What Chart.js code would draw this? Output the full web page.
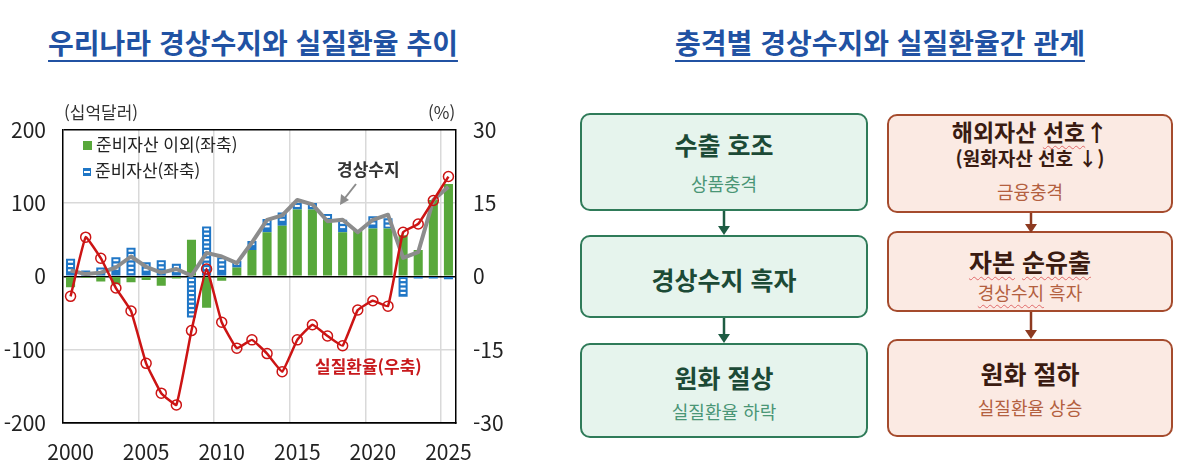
<!DOCTYPE html>
<html lang="ko">
<head>
<meta charset="UTF-8">
<title>경상수지와 실질환율</title>
<script src="https://cdn.jsdelivr.net/npm/chart.js"></script>
<style>
    body { margin: 0; width: 1199px; height: 467px; background: #fff; position: relative; overflow: hidden;
           font-family: "Noto Sans CJK KR", "Noto Sans", sans-serif; }
    .title { position: absolute; top: 26px; width: 500px; text-align: center; font-size: 28px; font-weight: bold;
             color: #2152a3; white-space: nowrap; line-height: 1.2; }
    .title span { text-decoration: underline; text-decoration-thickness: 2px; text-underline-offset: 6px; }
    .chart-wrap { position: absolute; left: 0; top: 100px; width: 510px; height: 367px; }
    .note { position: absolute; white-space: nowrap; line-height: 1; }
    .legend { position: absolute; left: 83px; font-size: 17px; color: #222; white-space: nowrap; line-height: 1; }
    .legend i { display: inline-block; width: 9px; height: 9px; margin-right: 4px; vertical-align: 1px; }
    .box { position: absolute; border-radius: 10px; box-sizing: border-box; }
    .green { background: #e6f4ed; border: 2px solid #2f7b59; }
    .red { background: #fbeae3; border: 2px solid #a54b2d; }
    .line { position: absolute; left: 0; right: 0; text-align: center; white-space: nowrap; line-height: 1.2; }
    .green .b { font-weight: bold; color: #1c4a36; }
    .green .s { color: #4a9676; }
    .red .b { font-weight: bold; color: #3a1b11; }
    .red .s { color: #b3603f; }
    .sq { text-decoration: underline wavy #e06a6a; text-decoration-thickness: 1px; text-underline-offset: 4px; }
    svg { position: absolute; left: 0; top: 0; pointer-events: none; }
</style>
</head>
<body>

<div class="title" style="left:3px"><span>우리나라 경상수지와 실질환율 추이</span></div>
<div class="title" style="left:630px"><span>충격별 경상수지와 실질환율간 관계</span></div>

<div class="chart-wrap"><canvas id="chart"></canvas></div>

<div class="note" style="left:64px; top:103px; font-size:17px; color:#333">(십억달러)</div>
<div class="note" style="left:428px; top:103px; font-size:17px; color:#333">(%)</div>

<div class="legend" style="top:135px"><i style="background:#58a83b"></i>준비자산 이외(좌축)</div>
<div class="legend" style="top:161px"><i style="background:repeating-linear-gradient(#1f76c6 0 2px,#fff 2px 4px);border:1.5px solid #1f76c6;width:6px;height:6px"></i>준비자산(좌축)</div>

<div class="note" style="left:337px; top:160px; font-size:17px; font-weight:bold; color:#333">경상수지</div>
<div class="note" style="left:315px; top:357px; font-size:17px; font-weight:bold; color:#c8191c">실질환율(우축)</div>

<!-- 오른쪽 도식 -->
<div class="box green" style="left:580px; top:113px; width:288px; height:98px">
    <div class="line b" style="top:14px; font-size:25px">수출 호조</div>
    <div class="line s" style="top:58px; font-size:18px">상품충격</div>
</div>
<div class="box green" style="left:580px; top:235px; width:288px; height:83px">
    <div class="line b" style="top:27px; font-size:25px">경상수지 흑자</div>
</div>
<div class="box green" style="left:580px; top:343px; width:288px; height:95px">
    <div class="line b" style="top:17px; font-size:25px">원화 절상</div>
    <div class="line s" style="top:56px; font-size:18px">실질환율 하락</div>
</div>

<div class="box red" style="left:887px; top:114px; width:286px; height:99px">
    <div class="line b" style="top:2px; font-size:23px">해외자산 <span class="sq">선호</span>↑</div>
    <div class="line b" style="top:31px; font-size:19px">(원화자산 선호 ↓)</div>
    <div class="line s" style="top:65px; font-size:18px">금융충격</div>
</div>
<div class="box red" style="left:887px; top:231px; width:286px; height:81px">
    <div class="line b" style="top:13px; font-size:25px"><span class="sq">자본</span> <span class="sq">순유출</span></div>
    <div class="line s" style="top:49px; font-size:18px"><span class="sq">경상수지</span> 흑자</div>
</div>
<div class="box red" style="left:887px; top:339px; width:286px; height:98px">
    <div class="line b" style="top:17px; font-size:25px">원화 절하</div>
    <div class="line s" style="top:56px; font-size:18px">실질환율 상승</div>
</div>

<svg width="1199" height="467">
    <g stroke="#1e5c43" fill="#1e5c43" stroke-width="2.5">
        <line x1="724" y1="211" x2="724" y2="228"/><polygon points="718,226 730,226 724,235" stroke="none"/>
        <line x1="724" y1="318" x2="724" y2="336"/><polygon points="718,334 730,334 724,343" stroke="none"/>
    </g>
    <g stroke="#8d3a20" fill="#8d3a20" stroke-width="2.5">
        <line x1="1031" y1="213" x2="1031" y2="226"/><polygon points="1025,224 1037,224 1031,233" stroke="none"/>
        <line x1="1031" y1="312" x2="1031" y2="332"/><polygon points="1025,330 1037,330 1031,339" stroke="none"/>
    </g>
    <g stroke="#8c8c8c" fill="#8c8c8c" stroke-width="2">
        <line x1="356" y1="184" x2="345" y2="198"/><polygon points="340,205 341,194 349,200" stroke="none"/>
    </g>
</svg>

<script>
    const years = [2000, 2001, 2002, 2003, 2004, 2005, 2006, 2007, 2008, 2009, 2010, 2011, 2012,
                   2013, 2014, 2015, 2016, 2017, 2018, 2019, 2020, 2021, 2022, 2023, 2024, 2025];
    const labeledYears = [2000, 2005, 2010, 2015, 2020, 2025];

    // 십억달러, 좌축
    const nonReserve = [-15, -2, -7, -11, -8, -5, -13, -3, 50, -43, -6, 12, 36,
                        60, 69, 91, 91, 77, 60, 62, 65, 65, 56, 36, 104, 126];
    const reserve = [24, 8, 12, 26, 39, 19, 22, 17, -56, 68, 26, 9, 12,
                     18, 18, 9, 9, 8, 17, 0, 17, 14, -28, -3, -3, -4];
    const currentAccount = [8, 3, 5, 12, 27, 13, 5, 10, 1, 32, 27, 18, 46,
                            77, 83, 104, 98, 75, 77, 60, 77, 84, 25, 33, 104, 122];
    // %, 우축
    const realRate = [-4.1, 8.0, 3.7, -2.4, -7.1, -17.8, -23.9, -26.3, -11.1, 1.5, -9.4, -14.7, -13.0,
                      -15.8, -19.5, -13.0, -9.9, -12.2, -14.2, -6.9, -5.0, -6.1, 9.0, 10.7, 15.5, 20.4];

    const BLUE = '#1f76c6';
    const tickFont = { family: '"Noto Sans CJK KR", "Noto Sans", sans-serif', size: 21 };

    // 준비자산 막대 안의 흰 줄무늬
    const stripes = {
        id: 'stripes',
        afterDatasetDraw(chart, args) {
            if (args.index !== 1) return;
            const ctx = chart.ctx;
            ctx.save();
            ctx.fillStyle = '#fff';
            args.meta.data.forEach(bar => {
                const top = Math.min(bar.y, bar.base), bottom = Math.max(bar.y, bar.base);
                if (bottom - top < 5) return;
                for (let y = top + 2; y + 2 <= bottom - 1.5; y += 4.3) {
                    ctx.fillRect(bar.x - bar.width / 2 + 2, y, bar.width - 4, 2);
                }
            });
            ctx.restore();
        }
    };

    new Chart(document.getElementById('chart'), {
        data: {
            labels: years,
            datasets: [
                { type: 'bar', label: '준비자산 이외(좌축)', data: nonReserve, yAxisID: 'y', stack: 'fa',
                  backgroundColor: '#58a83b', barPercentage: 0.6, categoryPercentage: 1, order: 2 },
                { type: 'bar', label: '준비자산(좌축)', data: reserve, yAxisID: 'y', stack: 'fa',
                  backgroundColor: BLUE, borderColor: BLUE, borderWidth: 0,
                  barPercentage: 0.6, categoryPercentage: 1, order: 2 },
                { type: 'line', label: '경상수지', data: currentAccount, yAxisID: 'y', stack: 'ca',
                  borderColor: '#8c8c8c', borderWidth: 4, pointRadius: 0, borderJoinStyle: 'round', order: 1 },
                { type: 'line', label: '실질환율(우축)', data: realRate, yAxisID: 'y1',
                  borderColor: '#cc1414', borderWidth: 2.5, tension: 0.1,
                  pointRadius: 5, pointBorderWidth: 1.5, pointBorderColor: '#cc1414',
                  pointBackgroundColor: 'rgba(0,0,0,0)', order: 0 }
            ]
        },
        options: {
            responsive: true,
            maintainAspectRatio: false,
            animation: false,
            layout: { padding: { top: 21 } },
            plugins: { legend: { display: false }, tooltip: { enabled: false } },
            scales: {
                x: {
                    offset: true,
                    grid: {
                        offset: true, drawTicks: false,
                        color: c => (c.index > 0 && c.index % 5 === 0) ? '#d9d9d9' : 'rgba(0,0,0,0)',
                        lineWidth: 1.5
                    },
                    border: { display: true, color: '#000', width: 1.5 },
                    ticks: {
                        autoSkip: false, maxRotation: 0, padding: 16, color: '#222', font: tickFont,
                        callback: function (v, i) { return labeledYears.includes(years[i]) ? String(years[i]) : ''; }
                    },
                    afterFit: s => { s.height = 44; }
                },
                y: {
                    position: 'left', stacked: true, min: -200, max: 200,
                    ticks: { stepSize: 100, padding: 17, color: '#222', font: tickFont },
                    grid: {
                        drawTicks: false, lineWidth: 1.5,
                        color: c => (c.tick.value === 0 || Math.abs(c.tick.value) === 200) ? '#000' : '#d9d9d9'
                    },
                    border: { display: true, color: '#000', width: 1.5 },
                    afterFit: s => { s.width = 63; }
                },
                y1: {
                    position: 'right', min: -30, max: 30,
                    ticks: { stepSize: 15, padding: 17, color: '#222', font: tickFont },
                    grid: { display: false, drawTicks: false },
                    border: { display: true, color: '#000', width: 1.5 },
                    afterFit: s => { s.width = 54; }
                }
            }
        },
        plugins: [stripes]
    });
</script>
</body>
</html>
